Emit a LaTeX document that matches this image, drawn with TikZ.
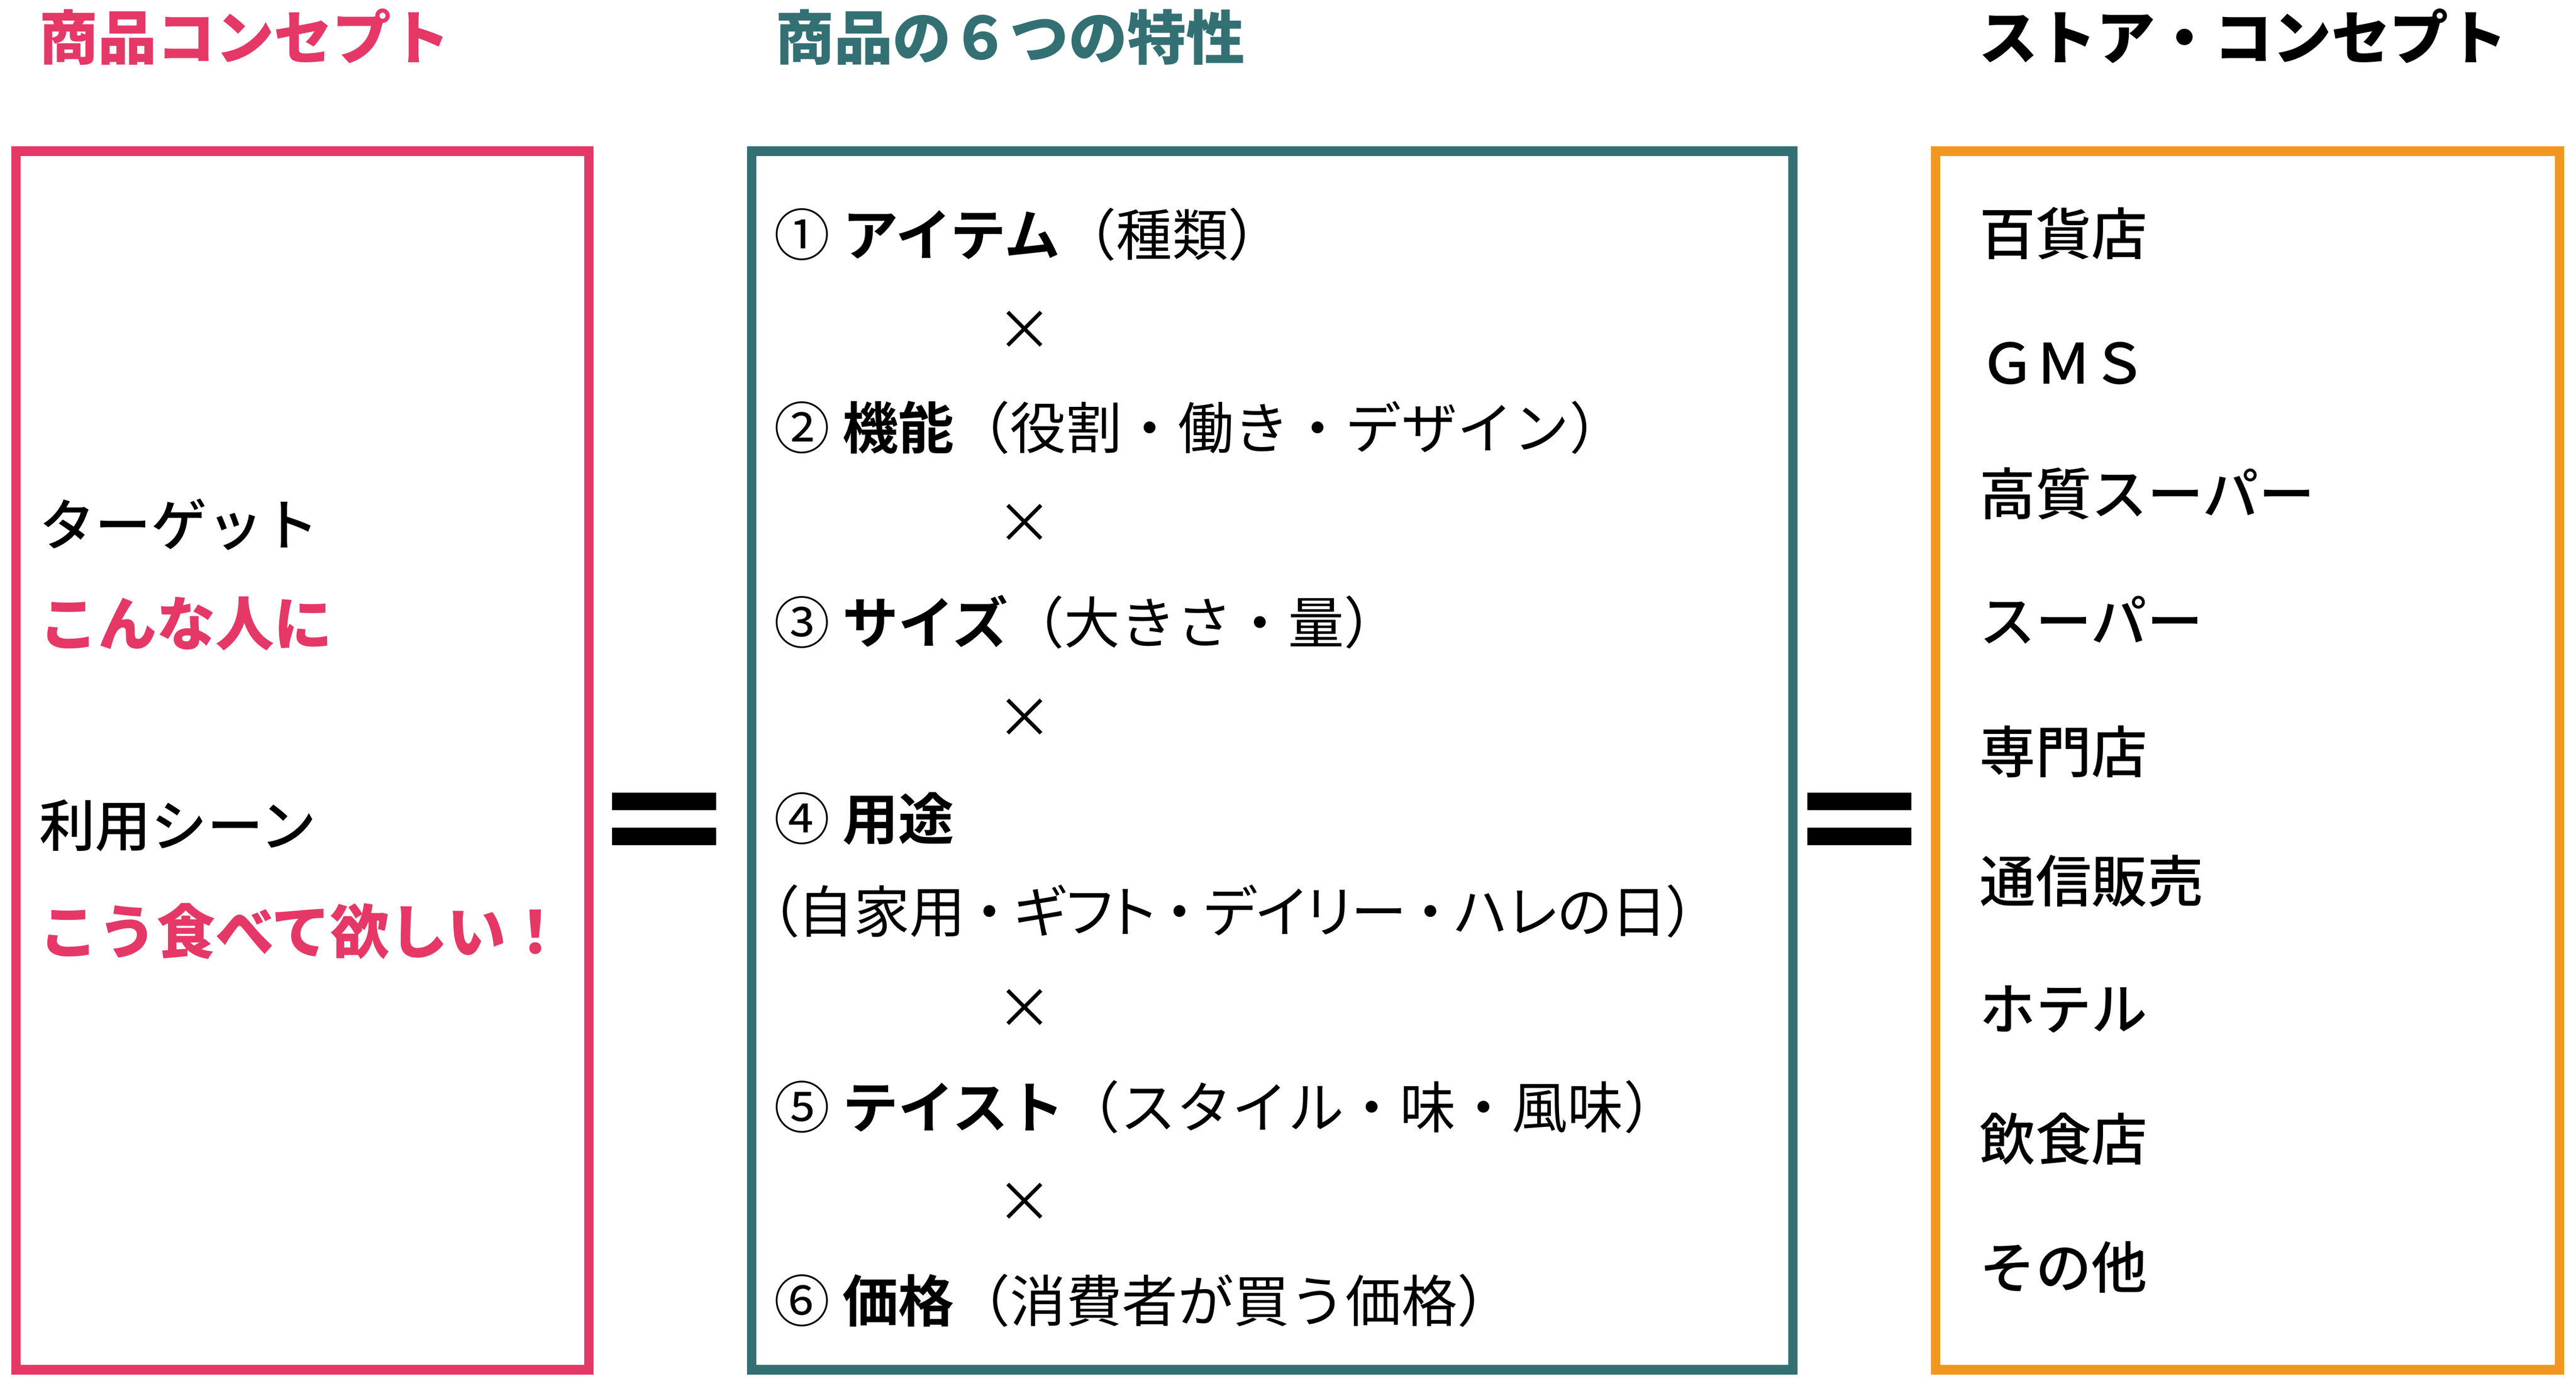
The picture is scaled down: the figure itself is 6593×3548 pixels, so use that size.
\documentclass[tikz,border=0pt]{standalone}
\usepackage{fontspec}
\setmainfont{Noto Sans CJK JP}[BoldFont={Noto Sans CJK JP Bold}]
\newfontfamily\jpm{Noto Sans CJK JP Medium}
\newfontfamily\jpk{Noto Sans CJK JP Black}
\newfontfamily\jpp{Noto Sans CJK JP}[RawFeature=+palt]
\newcommand\nakaten{\kern.18em・\kern.18em}
\definecolor{rosa}{RGB}{229,56,103}
\definecolor{petrol}{RGB}{51,112,116}
\definecolor{orangec}{RGB}{242,150,32}

\begin{document}
\begin{tikzpicture}	[
		x = 0.01cm,
		y = -0.01cm,
		box/.style = {
			draw,
			line width = 0.24cm,
			minimum height = 31.18cm,
			inner sep = 0pt
		},
		ttl/.style = {
			anchor = base west,
			inner sep = 0pt,
			font = \fontsize{42.7}{50}\selectfont\jpk
		},
		txt/.style = {
			anchor = base west,
			inner sep = 0pt,
			font = \fontsize{40.7}{48}\selectfont
		},
		med/.style = {txt, font = \fontsize{40.7}{48}\selectfont\jpm},
		hi/.style = {ttl, text = rosa},
		mal/.style = {inner sep = 0pt, font = \fontsize{40.7}{48}\selectfont}
	]
	\useasboundingbox (0,0) rectangle (6593,3548);

	\node [ttl, text=rosa] (t1) at (100,152) {商品コンセプト};
	\node [ttl, text=petrol] (t2) at (1984,152) {商品の６つの特性};
	\node [ttl] (t3) at (5065,152) {ストア・コンセプト};

	\node [box, draw=rosa, minimum width=14.66cm] (concept) at (774,1947) {};
	\node [box, draw=petrol, minimum width=26.63cm] (traits) at (3256.5,1947) {};
	\node [box, draw=orangec, minimum width=15.96cm] (store) at (5752,1947) {};

	\node [med] (target) at (100,1397) {ターゲット};
	\node [hi] (who) at (100,1653) {こんな人に};
	\node [med] (scene) at (100,2167) {利用シーン};
	\node [hi] (how) at (100,2441) {こう食べて欲しい！};

	\fill (1567,2029) rectangle (1833,2074);
	\fill (1567,2119) rectangle (1833,2164);

	\node [txt] (p1) at (1980,655) {① \textbf{アイテム}（種類）};
	\node [mal] (x1) at (2623,846) {×};
	\node [txt] (p2) at (1980,1149) {② \textbf{機能}（役割・働き・デザイン）};
	\node [mal] (x2) at (2623,1341) {×};
	\node [txt] (p3) at (1980,1647) {③ \textbf{サイズ}（大きさ・量）};
	\node [mal] (x3) at (2623,1839) {×};
	\node [txt] (p4) at (1980,2150) {④ \textbf{用途}};
	\node [txt, font=\fontsize{40.7}{48}\selectfont\jpp] (p4b) at (1970,2387) {（自家用\nakaten ギフト\nakaten デイリー\nakaten ハレの日）};
	\node [mal] (x4) at (2623,2583) {×};
	\node [txt] (p5) at (1980,2888) {⑤ \textbf{テイスト}（スタイル・味・風味）};
	\node [mal] (x5) at (2623,3079) {×};
	\node [txt] (p6) at (1980,3384) {⑥ \textbf{価格}（消費者が買う価格）};

	\fill (4626,2029) rectangle (4892,2074);
	\fill (4626,2119) rectangle (4892,2164);

	\node [med] (s1) at (5066,652) {百貨店};
	\node [med] (s2) at (5066,983) {ＧＭＳ};
	\node [med] (s3) at (5066,1318) {高質スーパー};
	\node [med] (s4) at (5066,1644) {スーパー};
	\node [med] (s5) at (5066,1979) {専門店};
	\node [med] (s6) at (5066,2309) {通信販売};
	\node [med] (s7) at (5066,2637) {ホテル};
	\node [med] (s8) at (5066,2970) {飲食店};
	\node [med] (s9) at (5066,3299) {その他};
\end{tikzpicture}
\end{document}
